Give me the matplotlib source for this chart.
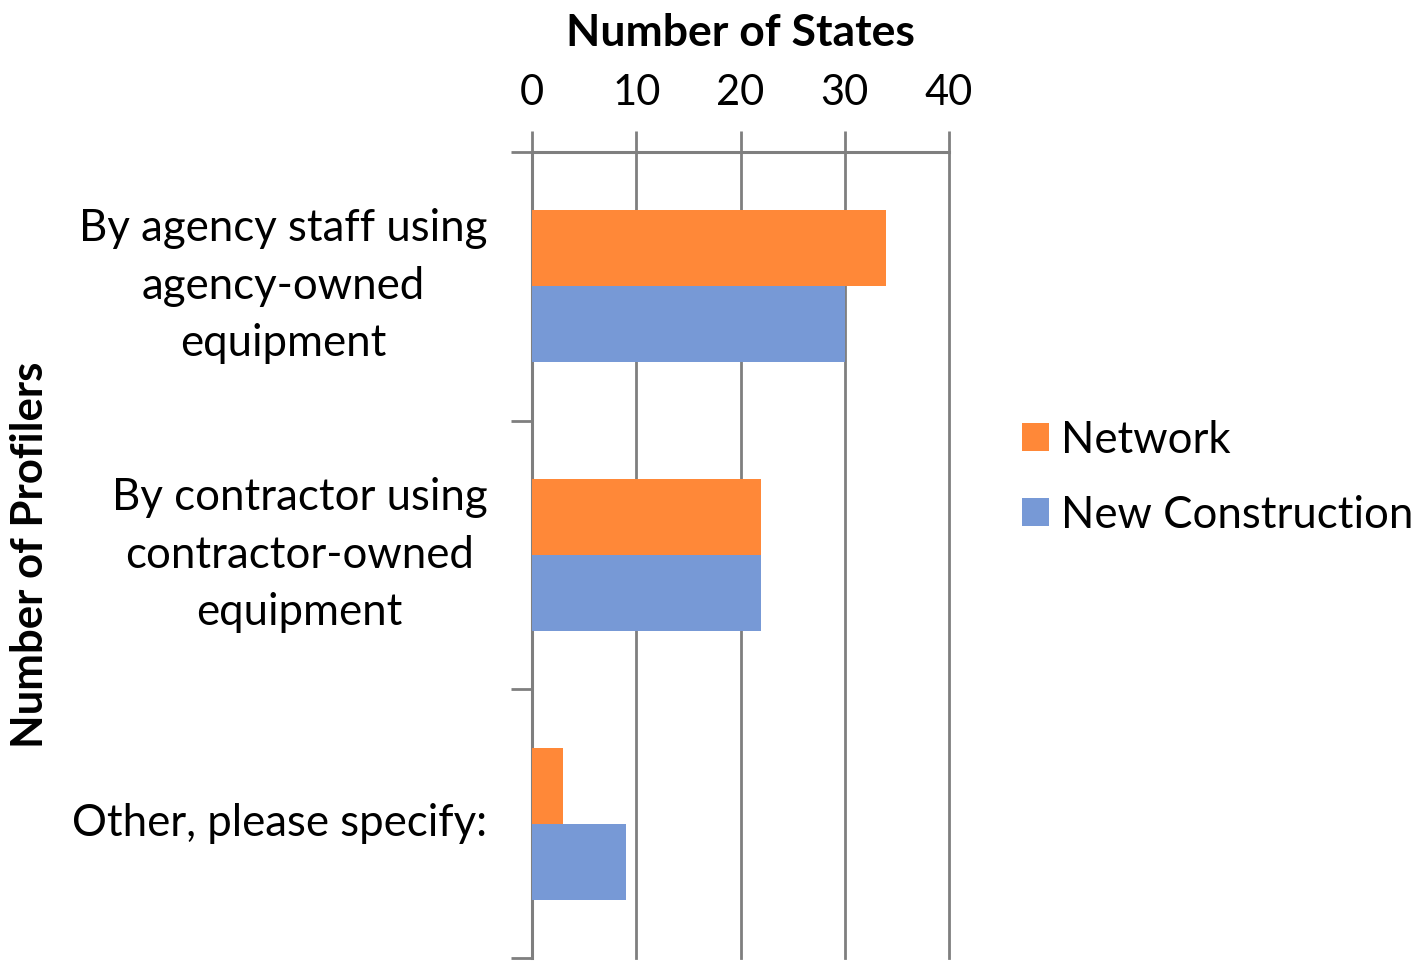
import matplotlib.pyplot as plt
import numpy as np

plt.rcParams['font.family'] = ['Lato', 'DejaVu Sans']

categories = ['By agency staff using\nagency-owned\nequipment',
              'By contractor using\ncontractor-owned\nequipment',
              'Other, please specify:']
network = [34, 22, 3]
new_construction = [30, 22, 9]

orange = '#FF8838'
blue = '#7799D6'
grid_gray = '#7F7F7F'

fig = plt.figure(figsize=(14.2, 9.61), dpi=100)
ax = fig.add_axes([532 / 1420, 1 - 958 / 961, (949 - 532) / 1420, (958 - 152) / 961])

y = np.arange(len(categories)) + 0.5
h = 0.283
ax.barh(y - h / 2, network, height=h, color=orange, label='Network', zorder=3)
ax.barh(y + h / 2, new_construction, height=h, color=blue, label='New Construction', zorder=3)

ax.set_xlim(0, 40)
ax.set_ylim(3, 0)
ax.set_xticks([0, 10, 20, 30, 40])
ax.set_yticks([0, 1, 2, 3])
ax.set_yticks(y, minor=True)
ax.set_yticklabels([], minor=False)
ax.set_yticklabels(categories, minor=True, ha='right', va='center', multialignment='center',
                   fontsize=31.5, linespacing=1.5)
ax.tick_params(axis='y', which='minor', length=0, pad=32)
ax.tick_params(axis='y', which='major', length=15, width=2, color=grid_gray)
ax.tick_params(axis='x', top=True, bottom=False, labeltop=True, labelbottom=False,
               length=15, width=2, color=grid_gray, labelsize=30, pad=14)

ax.grid(axis='x', color=grid_gray, linewidth=2, zorder=0)
for gl in ax.get_xgridlines():
    gl.set_clip_on(False)
for s in ['right', 'bottom']:
    ax.spines[s].set_visible(False)
for s in ['left', 'top']:
    ax.spines[s].set_color(grid_gray)
    ax.spines[s].set_linewidth(2.2)

ax.set_title('Number of States', fontsize=32, fontweight='bold', pad=20)
fig.text(30 / 1420, 1 - 555 / 961, 'Number of Profilers', rotation=90, fontsize=31.5,
         fontweight='bold', ha='center', va='center')

ax.legend(loc='center left', bbox_to_anchor=(1.175, 0.596), frameon=False, fontsize=31.5,
          handlelength=0.62, handleheight=0.62, handletextpad=0.27, labelspacing=0.78,
          borderpad=0, borderaxespad=0)

fig.savefig('out.png', dpi=100)
